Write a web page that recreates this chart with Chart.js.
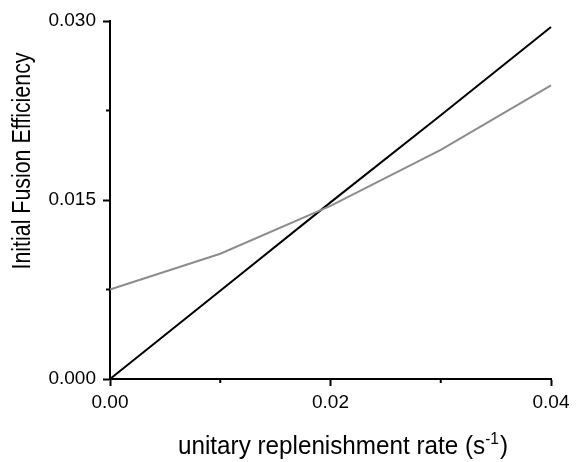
<!DOCTYPE html>
<html>
<head>
<meta charset="utf-8">
<script src="https://cdn.jsdelivr.net/npm/chart.js@4/dist/chart.umd.min.js"></script>
<style>
  html, body { margin: 0; padding: 0; background: #fff; }
  #wrap { width: 577px; height: 462px; position: relative; }
</style>
</head>
<body>
<div id="wrap"><canvas id="c" width="577" height="462"></canvas></div>
<script>
// ---- data ----
const xValues = [0, 0.01, 0.02, 0.03, 0.04];
const blackSeries = [0, 0.0074, 0.0148, 0.0221, 0.0295];
const graySeries = [0.0075, 0.0105, 0.0145, 0.0192, 0.0246];
const xTickValues = [0, 0.01, 0.02, 0.03, 0.04];
const yTickValues = [0, 0.0075, 0.015, 0.0225, 0.03];
const xTitle = 'unitary replenishment rate (s';
const xTitleSup = '-1';
const xTitleEnd = ')';
const yTitle = 'Initial Fusion Efficiency';

const FONT = '"Liberation Sans", Arial, Helvetica, sans-serif';

function pts(ys) { return xValues.map((x, i) => ({ x: x, y: ys[i] })); }

const titlesAndMinor = {
  id: 'titlesAndMinor',
  afterDraw(chart) {
    const ctx = chart.ctx;
    const xs = chart.scales.x, ys = chart.scales.y;
    ctx.save();
    // minor ticks
    ctx.strokeStyle = '#000';
    ctx.lineWidth = 2;
    xs.ticks.forEach((t, i) => {
      if (i % 2 === 1) {
        const px = xs.getPixelForValue(t.value);
        ctx.beginPath();
        ctx.moveTo(px, chart.chartArea.bottom);
        ctx.lineTo(px, chart.chartArea.bottom + 4);
        ctx.stroke();
      }
    });
    ys.ticks.forEach((t, i) => {
      if (i % 2 === 1) {
        const py = ys.getPixelForValue(t.value);
        ctx.beginPath();
        ctx.moveTo(chart.chartArea.left, py);
        ctx.lineTo(chart.chartArea.left - 4, py);
        ctx.stroke();
      }
    });
    ctx.fillStyle = '#000';
    // y title (slightly condensed)
    ctx.save();
    ctx.font = '25px ' + FONT;
    const yw = ctx.measureText(yTitle).width;
    ctx.translate(23, 161);
    ctx.rotate(-Math.PI / 2);
    ctx.scale(217 / yw, 1);
    ctx.textAlign = 'center';
    ctx.textBaseline = 'middle';
    ctx.fillText(yTitle, 0, 0);
    ctx.restore();
    // x title with superscript (slightly condensed)
    const mainFont = '25px ' + FONT;
    const supFont = '16px ' + FONT;
    ctx.font = mainFont;
    const w1 = ctx.measureText(xTitle).width;
    const w3 = ctx.measureText(xTitleEnd).width;
    ctx.font = supFont;
    const w2 = ctx.measureText(xTitleSup).width;
    const total = w1 + w2 + 1 + w3;
    const k = 330 / total;
    ctx.save();
    ctx.translate(343 - 330 / 2, 454);
    ctx.scale(k, 1);
    ctx.textAlign = 'left';
    ctx.textBaseline = 'alphabetic';
    ctx.font = mainFont;
    ctx.fillText(xTitle, 0, 0);
    ctx.font = supFont;
    ctx.fillText(xTitleSup, w1, -10);
    ctx.font = mainFont;
    ctx.fillText(xTitleEnd, w1 + w2 + 1, 0);
    ctx.restore();
    ctx.restore();
  }
};

new Chart(document.getElementById('c'), {
  type: 'line',
  data: {
    datasets: [
      { data: pts(graySeries), borderColor: '#8c8c8c', borderWidth: 2, pointRadius: 0, tension: 0, fill: false, clip: false },
      { data: pts(blackSeries), borderColor: '#000', borderWidth: 2, pointRadius: 0, tension: 0, fill: false, clip: false }
    ]
  },
  options: {
    responsive: false,
    animation: false,
    devicePixelRatio: 1,
    layout: { padding: { top: 21, right: 26, left: 0, bottom: 0 } },
    plugins: { legend: { display: false }, tooltip: { enabled: false } },
    scales: {
      x: {
        type: 'linear',
        min: 0, max: 0.04,
        afterFit(s) { s.height = 83; },
        afterBuildTicks(s) { s.ticks = xTickValues.map(v => ({ value: v })); },
        border: { color: '#000', width: 2 },
        grid: {
          drawOnChartArea: false, drawTicks: true, tickLength: 7, tickWidth: 2,
          tickColor: (c) => (c.index % 2 === 0 ? '#000' : 'rgba(0,0,0,0)')
        },
        ticks: {
          color: '#000', font: { family: FONT, size: 19 }, padding: 5, maxRotation: 0,
          callback: (v, i) => (i % 2 === 0 ? Number(v).toFixed(2) : '')
        }
      },
      y: {
        type: 'linear',
        min: 0, max: 0.03,
        afterFit(s) { s.width = 110; },
        afterBuildTicks(s) { s.ticks = yTickValues.map(v => ({ value: v })); },
        border: { color: '#000', width: 2 },
        grid: {
          drawOnChartArea: false, drawTicks: true, tickLength: 7, tickWidth: 2,
          tickColor: (c) => (c.index % 2 === 0 ? '#000' : 'rgba(0,0,0,0)')
        },
        ticks: {
          color: '#000', font: { family: FONT, size: 19 }, padding: 7,
          callback: (v, i) => (i % 2 === 0 ? Number(v).toFixed(3) : '')
        }
      }
    }
  },
  plugins: [titlesAndMinor]
});
</script>
</body>
</html>
